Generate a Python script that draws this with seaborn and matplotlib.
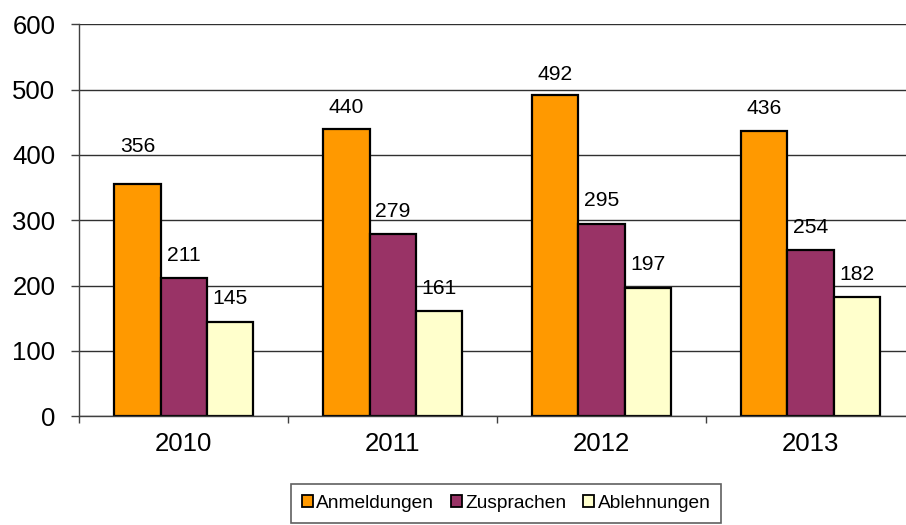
import matplotlib
matplotlib.use('Agg')
import matplotlib.pyplot as plt
from matplotlib.patches import Patch
import seaborn as sns
import pandas as pd

# ---- data ----
years = ['2010', '2011', '2012', '2013']
anmeldungen = [356, 440, 492, 436]
zusprachen = [211, 279, 295, 254]
ablehnungen = [145, 161, 197, 182]
series_names = ['Anmeldungen', 'Zusprachen', 'Ablehnungen']
y_ticks = [0, 100, 200, 300, 400, 500, 600]

# ---- styling ----
colors = ['#FF9900', '#993366', '#FFFFCC']
# vertical lift (pixels) of value labels above bar tops; default 23
label_lift = {(0, 0): 37, (0, 1): 21.5, (0, 2): 20.5}

sns.set_theme(style='white')
plt.rcParams['font.family'] = ['Liberation Sans', 'DejaVu Sans']
plt.rcParams['text.color'] = 'black'

fig = plt.figure(figsize=(9.06, 5.25), dpi=100)
ax = fig.add_axes([79.4 / 906, 1 - 416.3 / 525, 835.6 / 906, 392.0 / 525])

df = pd.DataFrame({
    'Jahr': years * 3,
    'Serie': [s for s in series_names for _ in years],
    'Wert': anmeldungen + zusprachen + ablehnungen,
})

sns.barplot(data=df, x='Jahr', y='Wert', hue='Serie', hue_order=series_names,
            palette=colors, saturation=1, width=0.665, edgecolor='black',
            linewidth=1.6, ax=ax, legend=False, errorbar=None)

for si, cont in enumerate(ax.containers):
    for yi, p in enumerate(cont.patches):
        h = p.get_height()
        x = p.get_x() + p.get_width() / 2
        lift = label_lift.get((si, yi), 23) * 0.72
        ax.annotate(f'{int(round(h))}', (x, h), xytext=(0, lift),
                    textcoords='offset points', ha='center', va='center',
                    fontsize=15.2, color='black')

ax.set_ylim(0, 600)
ax.set_xlim(-0.5, 3.5)
ax.set_yticks(y_ticks)
ax.set_xlabel('')
ax.set_ylabel('')
ax.yaxis.grid(True, color='#303030', linewidth=1)
ax.xaxis.grid(False)
ax.set_axisbelow(True)

for s in ['top', 'right']:
    ax.spines[s].set_visible(False)
for s in ['left', 'bottom']:
    ax.spines[s].set_color('#404040')
    ax.spines[s].set_linewidth(1)

ax.tick_params(axis='y', which='major', direction='out', length=5.8, width=1,
               color='#404040', pad=11.5, labelsize=18.5, left=True,
               labelcolor='black')
ax.set_xticks([-0.5, 0.5, 1.5, 2.5, 3.5], minor=True)
ax.tick_params(axis='x', which='major', length=0, pad=11.5, labelsize=18.5,
               labelcolor='black')
ax.tick_params(axis='x', which='minor', direction='out', length=5, width=1,
               color='#404040', bottom=True)

handles = [Patch(facecolor=c, edgecolor='black', linewidth=1.3) for c in colors]
leg = fig.legend(handles, series_names, loc='center',
                 bbox_to_anchor=(506 / 906, 1 - 503.5 / 525),
                 ncol=3, frameon=True, fancybox=False, edgecolor='#606060',
                 fontsize=13.8, handlelength=0.6, handleheight=0.6,
                 handletextpad=0.17, columnspacing=0.85, borderpad=0.55,
                 framealpha=1)
leg.get_frame().set_linewidth(1.2)
for t in leg.get_texts():
    t.set_color('black')

fig.savefig('out.png', dpi=100)
